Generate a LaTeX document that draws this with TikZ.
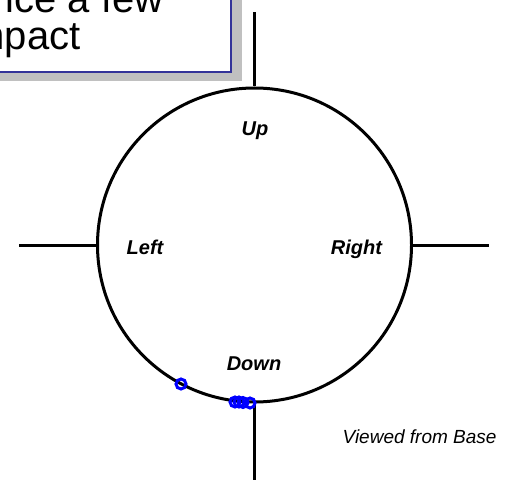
\documentclass[tikz,border=0pt]{standalone}
\usepackage{fontspec}
\setmainfont{Liberation Sans}
\usepackage{xcolor}
\usepackage{tikz}
\usetikzlibrary{positioning}
\definecolor{boxBlue}{HTML}{333399}
\definecolor{hitBlue}{HTML}{0000FF}
\definecolor{shadowGrey}{HTML}{C0C0C0}

\begin{document}
\begin{tikzpicture}[x=1pt, y=-1pt, line width=3pt,
  lbl/.style={font=\fontsize{20}{24}\selectfont\bfseries\itshape,inner sep=0pt,anchor=base},
  note/.style={font=\fontsize{40}{37}\selectfont,inner sep=0pt,anchor=base east},
  hit/.style={circle,draw=hitBlue,line width=3pt,minimum size=10pt,inner sep=0pt}]
  \useasboundingbox (0,0) rectangle (510,484);
  \clip (0,0) rectangle (510,484);
% --- callout box ---
  \fill[shadowGrey] (-30,-30) rectangle (241.5,81.5);
  \draw[boxBlue,line width=2.5pt,fill=white] (-30,-30) rectangle (231,72);
  \node[note] (note1) at (165,13) {ice a few};
  \node[note] (note2) at (82,49.5) {mpact};
% --- dial ---
  \node[circle,draw,minimum size=314pt,inner sep=0pt] (dial) at (254.5,245) {};
  \coordinate (upEnd) at (254.5,12);
  \coordinate (downEnd) at (254.5,480);
  \coordinate (leftEnd) at (19,245);
  \coordinate (rightEnd) at (489,245);
  \draw (dial.north) -- (upEnd);
  \draw (dial.south) -- (downEnd);
  \draw (dial.west) -- (leftEnd);
  \draw (dial.east) -- (rightEnd);
  \node[lbl] (up) at (255,135) {Up};
  \node[lbl] (left) at (145,254) {Left};
  \node[lbl] (right) at (356.5,254) {Right};
  \node[lbl] (down) at (254,370) {Down};
% --- hits ---
  \node[hit] (h1) at (181,384) {};
  \node[hit] (h2) at (235,402) {};
  \node[hit] (h3) at (239,402) {};
  \node[hit] (h4) at (243,402.5) {};
  \node[hit] (h5) at (250,403) {};
  \node[font=\fontsize{19}{22}\selectfont\itshape,inner sep=0pt,anchor=base east] (view) at (498,443) {Viewed from Base};
\end{tikzpicture}
\end{document}
